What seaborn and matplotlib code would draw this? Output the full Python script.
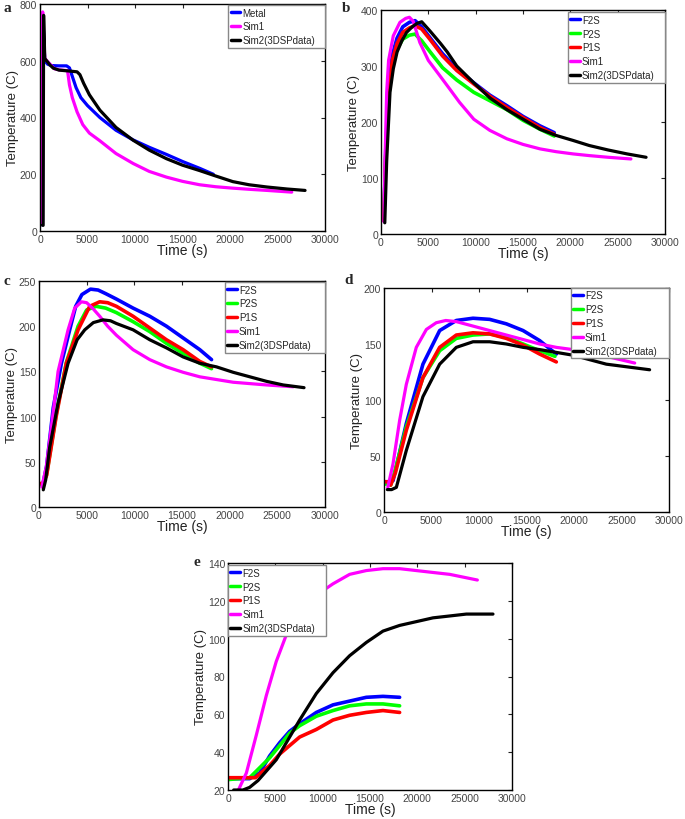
import numpy as np
import pandas as pd
import matplotlib
matplotlib.use("Agg")
import matplotlib.pyplot as plt
import seaborn as sns

# colours of the series (MATLAB style)
BLUE, GREEN, RED, MAGENTA, BLACK = '#0000ff', '#00ff00', '#ff0000', '#ff00ff', '#000000'

# ---------------- panel a ----------------
a_metal_t = [150, 260, 300, 500, 800, 1200, 2000, 2800, 3100, 3400, 3800, 4300, 5000, 6300, 8000, 9800,
             11500, 13300, 15000, 16800, 18250]
a_metal_T = [22, 25, 755, 600, 588, 583, 582, 582, 575, 545, 505, 470, 442, 400, 355, 321, 295, 270, 245, 221, 200]
a_sim1_t = [250, 280, 500, 1000, 1500, 2000, 2900, 3100, 3400, 3900, 4500, 5200, 6300, 8000, 9800, 11500, 13300,
            15000, 16800, 18500, 20300, 22000, 23900, 26500]
a_sim1_T = [25, 772, 608, 590, 572, 568, 565, 515, 470, 420, 375, 345, 318, 273, 238, 210, 190, 175, 163, 156, 151,
            147, 143, 137]
a_sim2_t = [280, 330, 380, 500, 1050, 1400, 2000, 3000, 3900, 4200, 4600, 5200, 6300, 8000, 9800, 11500, 13300,
            15000, 16800, 18300, 20300, 22000, 23900, 26000, 27900]
a_sim2_T = [20, 20, 760, 608, 585, 574, 567, 564, 561, 551, 520, 480, 426, 365, 320, 285, 255, 232, 213, 196, 174,
            163, 155, 148, 143]

# ---------------- panel b ----------------
b_f2s_t = [0, 300, 500, 800, 1200, 1700, 2300, 3000, 3600, 4300, 5200, 6500, 8000, 9800, 11500, 13300, 15000,
           16800, 18300]
b_f2s_T = [25, 25, 150, 260, 320, 350, 370, 378, 381, 370, 350, 322, 295, 270, 248, 229, 210, 193, 181]
b_p2s_t = b_f2s_t
b_p2s_T = [25, 25, 140, 245, 300, 330, 348, 355, 357, 345, 325, 297, 275, 253, 238, 222, 203, 187, 175]
b_p1s_t = b_f2s_t
b_p1s_T = [25, 25, 140, 250, 310, 340, 360, 368, 372, 366, 347, 318, 292, 268, 246, 226, 208, 190, 178]
b_sim1_t = [300, 450, 600, 800, 1300, 2000, 2600, 3000, 3400, 4100, 5000, 6200, 7300, 8300, 9800, 11500, 13300,
            15000, 16800, 18500, 20300, 22000, 24000, 26400]
b_sim1_T = [22, 150, 253, 310, 354, 378, 385, 387, 380, 342, 310, 283, 258, 235, 205, 185, 170, 160, 152, 147, 143,
            140, 137, 134]
b_sim2_t = [400, 600, 950, 1300, 1700, 2200, 2700, 3300, 3800, 4300, 5200, 6300, 7000, 8000, 9800, 11500, 13300,
            15000, 16800, 18500, 20300, 22000, 24000, 26000, 28000]
b_sim2_T = [20, 130, 253, 295, 325, 345, 360, 370, 376, 379, 362, 340, 325, 300, 270, 243, 222, 205, 187, 176, 167,
            158, 150, 143, 137]

# ---------------- panel c ----------------
c_f2s_t = [0, 400, 800, 1500, 2350, 3220, 3850, 4500, 5400, 6200, 7000, 8120, 9870, 11620, 13370, 15120, 16870,
           18100]
c_f2s_T = [25, 25, 45, 110, 159, 196, 222, 235, 241, 240, 236, 230, 220, 211, 200, 187, 174, 163]
c_p2s_t = [0, 400, 800, 1800, 2870, 4100, 5000, 6000, 7000, 8120, 9870, 11620, 13370, 15120, 16870, 18100]
c_p2s_T = [25, 25, 36, 102, 160, 200, 218, 222, 220, 215, 205, 194, 181, 170, 159, 153]
c_p1s_t = [0, 400, 800, 1800, 2870, 4100, 5320, 6370, 7200, 8120, 9870, 11620, 13370, 15120, 16870, 18100]
c_p1s_T = [26, 26, 35, 100, 159, 196, 222, 227, 226, 222, 211, 198, 185, 174, 161, 155]
c_sim1_t = [300, 770, 1470, 2000, 3050, 3745, 4445, 5000, 5700, 6370, 7200, 8120, 9870, 11620, 13370, 15120,
            16870, 20370, 23870, 26670]
c_sim1_T = [22, 45, 103, 150, 196, 220, 227, 226, 219, 211, 200, 190, 174, 163, 155, 149, 144, 138, 135, 133]
c_sim2_t = [450, 700, 1120, 2000, 3050, 4000, 4800, 5700, 6720, 7500, 8120, 9870, 11620, 13370, 15120, 16870,
            18620, 20370, 22120, 23870, 25620, 27800]
c_sim2_T = [19, 30, 66, 115, 159, 185, 196, 204, 207, 206, 203, 196, 185, 176, 166, 159, 155, 149, 144, 139, 135,
            132]

# ---------------- panel d ----------------
d_f2s_t = [0, 500, 950, 2350, 4100, 5860, 7610, 9370, 11120, 12880, 14640, 16390, 18140]
d_f2s_T = [27, 27, 28, 79, 132, 162, 171, 173, 172, 168, 162, 153, 141]
d_p2s_t = [0, 500, 700, 1200, 2350, 4100, 5860, 7610, 9370, 11120, 12880, 14640, 16390, 18000]
d_p2s_T = [25, 25, 24, 38, 76, 120, 144, 155, 158, 159, 156, 150, 144, 139]
d_p1s_t = [0, 500, 700, 1200, 2350, 4100, 5860, 7610, 9370, 11120, 12880, 14640, 16390, 18140]
d_p1s_T = [27, 27, 24, 35, 73, 120, 147, 158, 160, 159, 155, 149, 141, 134]
d_sim1_t = [400, 950, 1650, 2350, 3400, 4460, 5500, 6500, 7610, 9370, 11120, 12880, 14640, 16390, 18140, 19890,
            23400, 26390]
d_sim1_T = [22, 43, 82, 114, 147, 163, 169, 171, 170, 166, 162, 158, 154, 150, 147, 145, 139, 133]
d_sim2_t = [350, 800, 1300, 2350, 4100, 5860, 7610, 9370, 11120, 12880, 14640, 16390, 19890, 23400, 27960]
d_sim2_T = [20, 20, 22, 55, 103, 132, 147, 152, 152, 150, 147, 145, 140, 132, 127]

# ---------------- panel e ----------------
e_f2s_t = [0, 2290, 3345, 4400, 5460, 6510, 7570, 9330, 11090, 12850, 14610, 16370, 18130]
e_f2s_T = [26, 26, 29, 38, 45, 51, 55, 61, 65, 67, 69, 69.5, 69]
e_p2s_t = [0, 2290, 4400, 6510, 7570, 9330, 11090, 12850, 14610, 16370, 18130]
e_p2s_T = [25.5, 26.5, 37, 50, 54, 59, 62, 64.5, 65.5, 65.5, 64.5]
e_p1s_t = [0, 2900, 4400, 5460, 6510, 7570, 9330, 11090, 12850, 14610, 16370, 18130]
e_p1s_T = [26.5, 26.5, 33, 39, 43.5, 48, 52, 57, 59.5, 61, 62, 61]
e_sim1_t = [1100, 1940, 2990, 4050, 5100, 6160, 7570, 9330, 11090, 12850, 14610, 16370, 18130, 19890, 21650, 23420,
            26340]
e_sim1_T = [20, 29, 49, 70, 88, 102, 114, 123, 129, 134, 136, 137, 137, 136, 135, 134, 131]
e_sim2_t = [600, 1580, 2290, 3170, 4050, 5100, 6160, 7570, 9330, 11090, 12850, 14610, 16370, 18130, 19890, 21650,
            23420, 25180, 27990]
e_sim2_T = [20, 20, 21.4, 25, 30, 36, 45, 57, 71, 82, 91, 98, 104, 107, 109, 111, 112, 113, 113]

x_ticks = [0, 5000, 10000, 15000, 20000, 25000, 30000]

sns.set_style("white")
plt.rcParams['font.family'] = ['Liberation Sans', 'DejaVu Sans']

fig = plt.figure(figsize=(6.85, 8.2), dpi=100)
W, H = 685, 820


def make_axes(left, top, right, bottom):
    return fig.add_axes([left / W, 1 - bottom / H, (right - left) / W, (bottom - top) / H])


def draw_panel(ax, series, ylim, yticks, letter, leg_bbox, letter_xy):
    for name, t, T, col in series:
        lw = 2.6 if name in ('F2S', 'P2S', 'P1S') else 2.3
        sns.lineplot(x=t, y=T, ax=ax, color=col, lw=lw, label=name, sort=False, estimator=None)
    ax.set_xlim(0, 30000)
    ax.set_ylim(*ylim)
    ax.set_xticks(x_ticks)
    ax.set_xticklabels([str(v) for v in x_ticks])
    ax.set_yticks(yticks)
    ax.set_yticklabels([str(v) for v in yticks])
    ax.tick_params(direction='in', length=3, width=0.8, top=True, right=True,
                   labelsize=7.5, labelcolor='#444444', colors='#222222', pad=2)
    for s in ax.spines.values():
        s.set_color('black')
        s.set_linewidth(1.0)
    ax.set_xlabel("Time (s)", fontsize=10, color='#222222', labelpad=-0.5)
    ax.set_ylabel("Temperature (C)", fontsize=9.5, color='#222222', labelpad=0.5)
    leg = ax.legend(loc='upper left', bbox_to_anchor=leg_bbox, mode='expand', borderaxespad=0,
                    fontsize=7, handlelength=1.0, handletextpad=0.2, labelspacing=0.4,
                    borderpad=0.25, fancybox=False, framealpha=1, edgecolor='#888888')
    leg.get_frame().set_linewidth(1.0)
    for line in leg.get_lines():
        line.set_linewidth(2.5)
    fig.text(letter_xy[0] / W, 1 - letter_xy[1] / H, letter, fontsize=11, fontweight='bold',
             family='Liberation Serif', ha='left', va='center')


ax_a = make_axes(40, 5, 325, 232)
draw_panel(ax_a, [('Metal', a_metal_t, a_metal_T, BLUE),
                  ('Sim1', a_sim1_t, a_sim1_T, MAGENTA),
                  ('Sim2(3DSPdata)', a_sim2_t, a_sim2_T, BLACK)],
           (0, 800), [0, 200, 400, 600, 800], 'a', (0.66, 0, 0.34, 0.995), (3, 8))

ax_b = make_axes(381, 11, 665, 235)
draw_panel(ax_b, [('F2S', b_f2s_t, b_f2s_T, BLUE),
                  ('P2S', b_p2s_t, b_p2s_T, GREEN),
                  ('P1S', b_p1s_t, b_p1s_T, RED),
                  ('Sim1', b_sim1_t, b_sim1_T, MAGENTA),
                  ('Sim2(3DSPdata)', b_sim2_t, b_sim2_T, BLACK)],
           (0, 400), [0, 100, 200, 300, 400], 'b', (0.658, 0, 0.342, 0.99), (342, 8))

ax_c = make_axes(39, 282, 325, 508)
draw_panel(ax_c, [('F2S', c_f2s_t, c_f2s_T, BLUE),
                  ('P2S', c_p2s_t, c_p2s_T, GREEN),
                  ('P1S', c_p1s_t, c_p1s_T, RED),
                  ('Sim1', c_sim1_t, c_sim1_T, MAGENTA),
                  ('Sim2(3DSPdata)', c_sim2_t, c_sim2_T, BLACK)],
           (0, 250), [0, 50, 100, 150, 200, 250], 'c', (0.65, 0, 0.35, 0.995), (3, 282))

ax_d = make_axes(384, 289, 669, 513)
draw_panel(ax_d, [('F2S', d_f2s_t, d_f2s_T, BLUE),
                  ('P2S', d_p2s_t, d_p2s_T, GREEN),
                  ('P1S', d_p1s_t, d_p1s_T, RED),
                  ('Sim1', d_sim1_t, d_sim1_T, MAGENTA),
                  ('Sim2(3DSPdata)', d_sim2_t, d_sim2_T, BLACK)],
           (0, 200), [0, 50, 100, 150, 200], 'd', (0.656, 0, 0.344, 1.0), (344, 281))

ax_e = make_axes(228, 564, 512, 791)
draw_panel(ax_e, [('F2S', e_f2s_t, e_f2s_T, BLUE),
                  ('P2S', e_p2s_t, e_p2s_T, GREEN),
                  ('P1S', e_p1s_t, e_p1s_T, RED),
                  ('Sim1', e_sim1_t, e_sim1_T, MAGENTA),
                  ('Sim2(3DSPdata)', e_sim2_t, e_sim2_T, BLACK)],
           (20, 140), [20, 40, 60, 80, 100, 120, 140], 'e', (0.0, 0, 0.345, 0.99), (193, 563))

fig.savefig('out.png', dpi=100)
